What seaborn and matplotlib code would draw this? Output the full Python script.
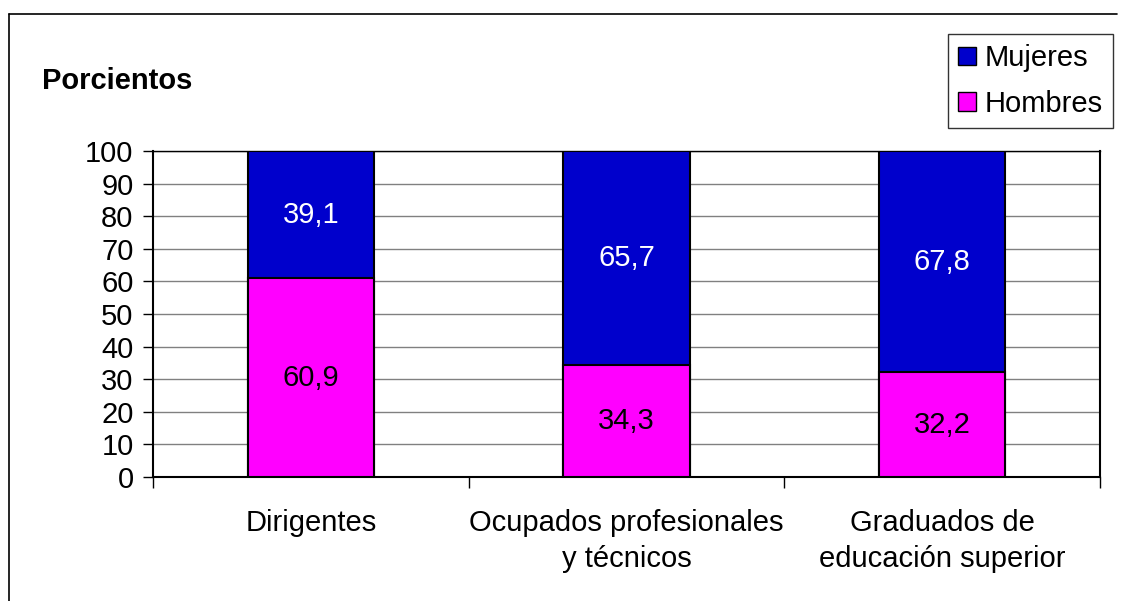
import matplotlib
matplotlib.use("Agg")
import matplotlib.pyplot as plt
from matplotlib.lines import Line2D
from matplotlib.patches import Patch
import seaborn as sns
import pandas as pd

categories = ["Dirigentes", "Ocupados profesionales\ny técnicos", "Graduados de\neducación superior"]
hombres = [60.9, 34.3, 32.2]
mujeres = [39.1, 65.7, 67.8]
yticks = list(range(0, 101, 10))

sns.set_theme(style="white")
plt.rcParams['font.family'] = ['Liberation Sans', 'DejaVu Sans']
plt.rcParams['text.color'] = 'black'
plt.rcParams['xtick.color'] = 'black'
plt.rcParams['ytick.color'] = 'black'
plt.rcParams['xtick.labelcolor'] = 'black'
plt.rcParams['ytick.labelcolor'] = 'black'

FS = 21

fig = plt.figure(figsize=(11.21, 6.01), dpi=100)
ax = fig.add_axes([153/1121, 1-477/601, (1100-153)/1121, (477-151)/601])

df = pd.DataFrame({"cat": categories, "h": hombres, "m": mujeres})
df["total"] = df["h"] + df["m"]

sns.barplot(data=df, x="cat", y="total", color="#0000CC", width=0.4,
            edgecolor="black", linewidth=1.5, saturation=1, ax=ax, zorder=3)
sns.barplot(data=df, x="cat", y="h", color="#FF00FF", width=0.4,
            edgecolor="black", linewidth=1.5, saturation=1, ax=ax, zorder=3)

for i, (h, m) in enumerate(zip(hombres, mujeres)):
    ax.text(i, h / 2, f"{h:.1f}".replace(".", ","), ha="center", va="center",
            fontsize=FS, color="black", zorder=4)
    ax.text(i, h + m / 2, f"{m:.1f}".replace(".", ","), ha="center", va="center",
            fontsize=FS, color="white", zorder=4)

ax.set_xlim(-0.5, 2.5)
ax.set_ylim(0, 100)
ax.set_yticks(yticks)
ax.set_yticklabels([str(t) for t in yticks], fontsize=FS)
ax.yaxis.grid(True, color="#808080", linewidth=1)
ax.set_axisbelow(True)
ax.set_xticks(range(len(categories)))
ax.set_xticklabels(categories, fontsize=FS, linespacing=1.38)
ax.set_xticks([-0.5, 0.5, 1.5, 2.5], minor=True)
ax.tick_params(axis="x", which="major", length=0, pad=23)
ax.tick_params(axis="x", which="minor", length=8, width=1, color="black", direction="out", bottom=True)
ax.tick_params(axis="y", which="major", length=7, width=1, color="black", direction="out", left=True, pad=7)
ax.set_xlabel("")
ax.set_ylabel("")
for s in ax.spines.values():
    s.set_color("black")
    s.set_linewidth(1.5)
ax.spines["top"].set_linewidth(1)

fig.text(42/1121, 1-81/601, "Porcientos", fontsize=FS, fontweight="bold", ha="left", va="center")

handles = [Patch(facecolor="#0000CC", edgecolor="black", label="Mujeres"),
           Patch(facecolor="#FF00FF", edgecolor="black", label="Hombres")]
leg = fig.legend(handles=handles, loc="upper right", bbox_to_anchor=(1113/1121, 1-34/601),
                 fontsize=FS, frameon=True, fancybox=False, handlelength=0.6, handleheight=0.6,
                 handletextpad=0.3, borderpad=0.35, labelspacing=0.6, borderaxespad=0)
leg.get_frame().set_edgecolor("black")
leg.get_frame().set_linewidth(1)

# outer chart border (top and left visible)
fig.add_artist(Line2D([9/1121, 1117/1121], [1-14/601, 1-14/601], color="black", linewidth=1.2, transform=fig.transFigure))
fig.add_artist(Line2D([9/1121, 9/1121], [1-14/601, 0], color="black", linewidth=1.2, transform=fig.transFigure))

fig.savefig("out.png", dpi=100)
